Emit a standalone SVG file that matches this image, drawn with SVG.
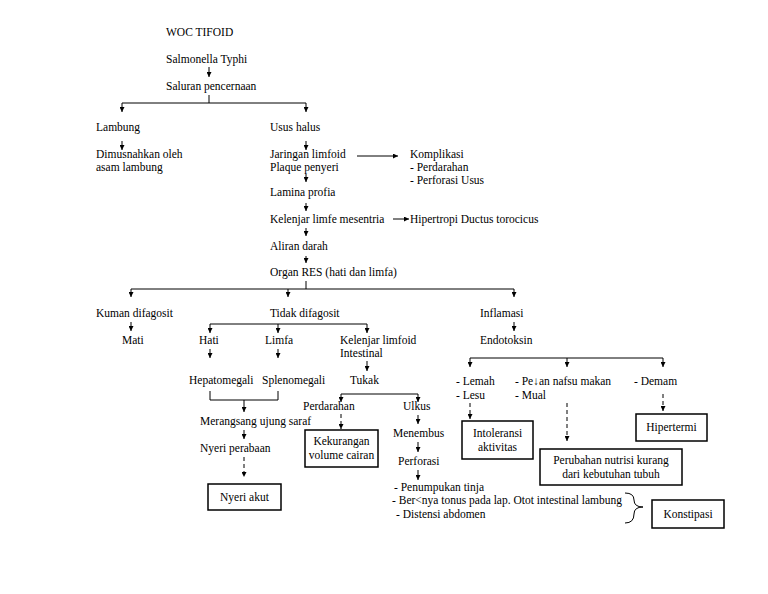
<svg xmlns="http://www.w3.org/2000/svg" width="768" height="594" viewBox="0 0 768 594">
<style>
text{font-family:'Liberation Serif','Times New Roman','DejaVu Serif',serif;font-size:11.5px;fill:#000}
.c{text-anchor:middle}
.l{stroke:#000;stroke-width:1;fill:none}
.a{stroke:#000;stroke-width:1;fill:none;marker-end:url(#ah)}
.d{stroke:#000;stroke-width:1;fill:none;stroke-dasharray:4,3;marker-end:url(#ah)}
.b{fill:#fff;stroke:#000;stroke-width:1.5}
</style>
<defs>
<marker id="ah" viewBox="0 0 6 6" refX="6" refY="3" markerWidth="5" markerHeight="5" markerUnits="userSpaceOnUse" orient="auto"><path d="M0,0 L6,3 L0,6 z" fill="#000"/></marker>
</defs>
<rect width="768" height="594" fill="#fff"/>
<g id="connectors">
<path class="a" d="M209,67 V77"/>
<path class="l" d="M209,95 V103 M122,103 H306"/>
<path class="a" d="M122,103 V112"/>
<path class="a" d="M306,103 V112"/>
<path class="a" d="M122,141 V150"/>
<path class="a" d="M306,141 V150"/>
<path class="a" d="M357,156 H398"/>
<path class="a" d="M306,174 V182"/>
<path class="a" d="M306,203 V211"/>
<path class="a" d="M393,219 H409"/>
<path class="a" d="M306,228 V236"/>
<path class="a" d="M306,256 V263"/>
<path class="l" d="M306,281 V289 M131,289 H514"/>
<path class="a" d="M131,289 V297"/>
<path class="a" d="M288,289 V297"/>
<path class="a" d="M514,289 V297"/>
<path class="a" d="M131,322 V331"/>
<path class="l" d="M210,324 H367"/>
<path class="a" d="M210,324 V333"/>
<path class="a" d="M278,324 V333"/>
<path class="a" d="M367,324 V333"/>
<path class="a" d="M210,349 V358"/>
<path class="a" d="M278,349 V358"/>
<path class="a" d="M367,361 V371"/>
<path class="l" d="M210,391 V400 H278 V391"/>
<path class="a" d="M244,400 V412"/>
<path class="a" d="M244,430 V439"/>
<path class="d" d="M244,457 V477"/>
<path class="l" d="M341,394 H418"/>
<path class="a" d="M341,394 V402"/>
<path class="a" d="M418,394 V402"/>
<path class="d" d="M341,414 V429"/>
<path class="a" d="M418,415 V424"/>
<path class="a" d="M418,442 V452"/>
<path class="a" d="M418,470 V480"/>
<path class="l" d="M625,493 Q634,493 634,500 Q634,507 643,507 Q634,507 634,514 Q634,523 625,523"/>
<path class="a" d="M514,322 V331"/>
<path class="l" d="M470,358 H663"/>
<path class="a" d="M470,358 V367"/>
<path class="a" d="M567,358 V367"/>
<path class="a" d="M663,358 V367"/>
<path class="d" d="M470,403 V419"/>
<path class="d" d="M567,403 V441"/>
<path class="d" d="M663,394 V411"/>
</g>
<g id="title"><text x="166" y="36">WOC TIFOID</text></g>
<g id="salmonella"><text x="166" y="63">Salmonella Typhi</text></g>
<g id="saluran"><text x="166" y="90">Saluran pencernaan</text></g>
<g id="lambung"><text x="96" y="131">Lambung</text></g>
<g id="usus"><text x="270" y="131">Usus halus</text></g>
<g id="dimusnahkan"><text x="96" y="158">Dimusnahkan oleh</text><text x="96" y="171">asam lambung</text></g>
<g id="jaringan"><text x="270" y="158">Jaringan limfoid</text><text x="270" y="171">Plaque penyeri</text></g>
<g id="komplikasi"><text x="410" y="158">Komplikasi</text><text x="410" y="171">- Perdarahan</text><text x="410" y="184">- Perforasi Usus</text></g>
<g id="lamina"><text x="270" y="196">Lamina profia</text></g>
<g id="kelenjar-mesentria"><text x="270" y="223">Kelenjar limfe mesentria</text></g>
<g id="hipertropi"><text x="410" y="223">Hipertropi Ductus torocicus</text></g>
<g id="aliran"><text x="270" y="250">Aliran darah</text></g>
<g id="organ-res"><text x="270" y="276">Organ RES (hati dan limfa)</text></g>
<g id="kuman"><text x="96" y="317">Kuman difagosit</text></g>
<g id="mati"><text x="122" y="344">Mati</text></g>
<g id="tidak"><text x="270" y="317">Tidak difagosit</text></g>
<g id="inflamasi"><text x="480" y="317">Inflamasi</text></g>
<g id="hati"><text x="199" y="344">Hati</text></g>
<g id="limfa"><text x="265" y="344">Limfa</text></g>
<g id="kelenjar-intestinal"><text x="340" y="344">Kelenjar limfoid</text><text x="340" y="357">Intestinal</text></g>
<g id="hepatomegali"><text x="189" y="384">Hepatomegali</text></g>
<g id="splenomegali"><text x="262" y="384">Splenomegali</text></g>
<g id="tukak"><text x="350" y="384">Tukak</text></g>
<g id="merangsang"><text x="200" y="425">Merangsang ujung saraf</text></g>
<g id="nyeri-perabaan"><text x="200" y="452">Nyeri perabaan</text></g>
<g id="nyeri-akut"><rect class="b" x="208" y="484" width="73" height="26"/><text class="c" x="244.5" y="501">Nyeri akut</text></g>
<g id="perdarahan"><text x="303" y="410">Perdarahan</text></g>
<g id="ulkus"><text x="403" y="410">Ulkus</text></g>
<g id="kekurangan"><rect class="b" x="305" y="430" width="73" height="37"/><text class="c" x="341.5" y="445">Kekurangan</text><text class="c" x="341.5" y="459">volume cairan</text></g>
<g id="menembus"><text x="393" y="437">Menembus</text></g>
<g id="perforasi"><text x="398" y="465">Perforasi</text></g>
<g id="gejala"><text x="394" y="491">- Penumpukan tinja</text><text x="392" y="504">- Ber&lt;nya tonus pada lap. Otot intestinal lambung</text><text x="396" y="518">- Distensi abdomen</text></g>
<g id="konstipasi"><rect class="b" x="652" y="500" width="72" height="28"/><text class="c" x="688" y="518">Konstipasi</text></g>
<g id="endotoksin"><text x="480" y="344">Endotoksin</text></g>
<g id="lemah"><text x="456" y="385">- Lemah</text><text x="456" y="399">- Lesu</text></g>
<g id="nafsu"><text x="515" y="385">- Pe↓an nafsu makan</text><text x="515" y="399">- Mual</text></g>
<g id="demam"><text x="634" y="385">- Demam</text></g>
<g id="intoleransi"><rect class="b" x="462" y="421" width="71" height="38"/><text class="c" x="497.5" y="437">Intoleransi</text><text class="c" x="497.5" y="451">aktivitas</text></g>
<g id="perubahan"><rect class="b" x="540" y="449" width="142" height="36"/><text class="c" x="611" y="464">Perubahan nutrisi kurang</text><text class="c" x="611" y="478">dari kebutuhan tubuh</text></g>
<g id="hipertermi"><rect class="b" x="636" y="414" width="71" height="27"/><text class="c" x="671.5" y="431">Hipertermi</text></g>
</svg>
